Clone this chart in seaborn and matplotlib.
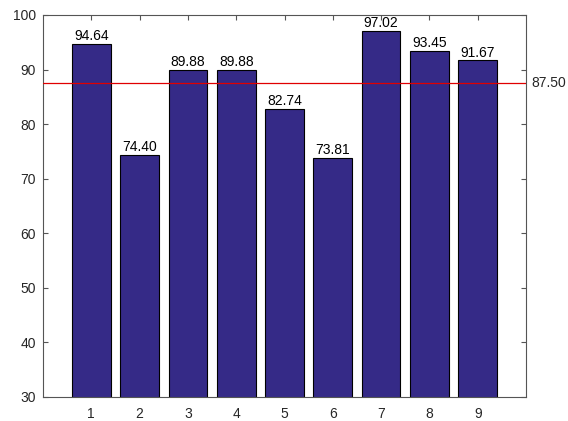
import matplotlib
matplotlib.use("Agg")
import matplotlib.pyplot as plt
import seaborn as sns
import pandas as pd

# Scores per run
runs = ["1", "2", "3", "4", "5", "6", "7", "8", "9"]
scores = [94.64, 74.40, 89.88, 89.88, 82.74, 73.81, 97.02, 93.45, 91.67]
y_ticks = [30, 40, 50, 60, 70, 80, 90, 100]

sns.set_theme(style="white")
plt.rcParams["font.family"] = ["Liberation Sans", "DejaVu Sans"]

df = pd.DataFrame({"run": runs, "score": scores})
mean_score = sum(scores) / len(scores)

fig = plt.figure(figsize=(5.68, 4.21), dpi=100)
ax = fig.add_axes([43 / 568, 24 / 421, 483 / 568, 382 / 421])

sns.barplot(data=df, x="run", y="score", order=runs, color="#352a87",
            saturation=1, width=0.8, edgecolor="black", linewidth=0.8, ax=ax)

for i, v in enumerate(scores):
    ax.text(i, v + 0.15, f"{v:.2f}", ha="center", va="bottom",
            fontsize=10, color="black")

ax.axhline(mean_score, color="#e00000", linewidth=0.9, zorder=3)
ax.text(1.012, mean_score, f"{mean_score:.2f}", transform=ax.get_yaxis_transform(),
        ha="left", va="center", fontsize=10, color="#262626")

ax.set_xlim(-1, 9)
ax.set_ylim(30, 100)
ax.set_yticks(y_ticks)
ax.set_xlabel("")
ax.set_ylabel("")

for s in ax.spines.values():
    s.set_color("#555555")
    s.set_linewidth(0.8)

ax.tick_params(axis="both", which="both", direction="in", length=3.5, width=0.8,
               color="#555555", labelsize=10, labelcolor="#262626",
               top=True, right=True, bottom=True, left=True)
ax.tick_params(axis="y", pad=5)
ax.tick_params(axis="x", pad=7)

fig.savefig("out.png", dpi=100, facecolor="white")
